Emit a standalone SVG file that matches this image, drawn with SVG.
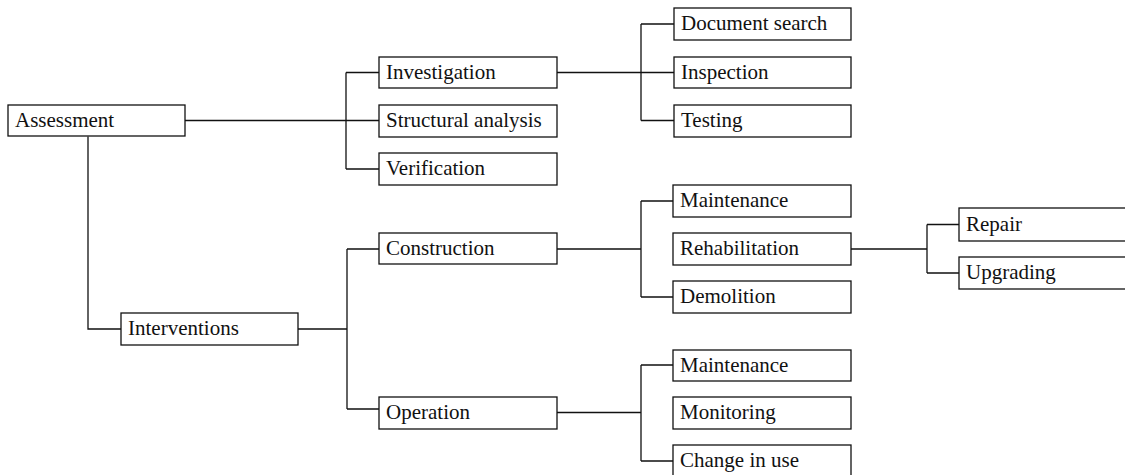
<svg xmlns="http://www.w3.org/2000/svg" width="1125" height="475" viewBox="0 0 1125 475">
<style>
rect.n{fill:#fff;stroke:#111;stroke-width:1.3}
text{font-family:'Liberation Serif','Tinos','DejaVu Serif',serif;font-size:21px;fill:#111}
.c path{fill:none;stroke:#111;stroke-width:1.3}
</style>
<rect width="1125" height="475" fill="#fff"/>
<g class="c" id="connectors">
<path d="M185,120.5H346M346,72.5V169M346,72.5H379M346,169H379M346,120.5H379"/>
<path d="M88,136.5V329H121"/>
<path d="M557,72.5H641M641,24V120.5M641,24H674M641,72.5H674M641,120.5H674"/>
<path d="M298,329H347M347,249V409M347,249H379M347,409H379"/>
<path d="M557,249H641M641,201V297M641,201H673M641,297H673"/>
<path d="M851,249H927M927,224.5V273M927,224.5H959M927,273H959"/>
<path d="M557,412.5H641M641,365V461M641,365H673M641,461H673"/>
</g>
<g font-family="Liberation Serif, serif">
<g id="n-assessment"><rect class="n" x="8" y="105" width="177" height="31"/><text x="15" y="127">Assessment</text></g>
<g id="n-investigation"><rect class="n" x="379" y="57" width="178" height="31"/><text x="386" y="79">Investigation</text></g>
<g id="n-structural"><rect class="n" x="379" y="105" width="178" height="32"/><text x="386" y="127">Structural analysis</text></g>
<g id="n-verification"><rect class="n" x="379" y="153" width="178" height="32"/><text x="386" y="175">Verification</text></g>
<g id="n-document"><rect class="n" x="674" y="8" width="177" height="32"/><text x="681" y="30">Document search</text></g>
<g id="n-inspection"><rect class="n" x="674" y="57" width="177" height="31"/><text x="681" y="79">Inspection</text></g>
<g id="n-testing"><rect class="n" x="674" y="105" width="177" height="32"/><text x="681" y="127">Testing</text></g>
<g id="n-interventions"><rect class="n" x="121" y="313" width="177" height="32"/><text x="128" y="335">Interventions</text></g>
<g id="n-construction"><rect class="n" x="379" y="233" width="178" height="31"/><text x="386" y="255">Construction</text></g>
<g id="n-operation"><rect class="n" x="379" y="397" width="178" height="32"/><text x="386" y="419">Operation</text></g>
<g id="n-maintenance1"><rect class="n" x="673" y="185" width="178" height="32"/><text x="680" y="207">Maintenance</text></g>
<g id="n-rehabilitation"><rect class="n" x="673" y="233" width="178" height="32"/><text x="680" y="255">Rehabilitation</text></g>
<g id="n-demolition"><rect class="n" x="673" y="281" width="178" height="32"/><text x="680" y="303">Demolition</text></g>
<g id="n-repair"><rect class="n" x="959" y="208" width="185" height="33"/><text x="966" y="231">Repair</text></g>
<g id="n-upgrading"><rect class="n" x="959" y="257" width="185" height="32"/><text x="966" y="279">Upgrading</text></g>
<g id="n-maintenance2"><rect class="n" x="673" y="350" width="178" height="31"/><text x="680" y="372">Maintenance</text></g>
<g id="n-monitoring"><rect class="n" x="673" y="397" width="178" height="32"/><text x="680" y="419">Monitoring</text></g>
<g id="n-change"><rect class="n" x="673" y="445" width="178" height="32"/><text x="680" y="467">Change in use</text></g>
</g>
</svg>
